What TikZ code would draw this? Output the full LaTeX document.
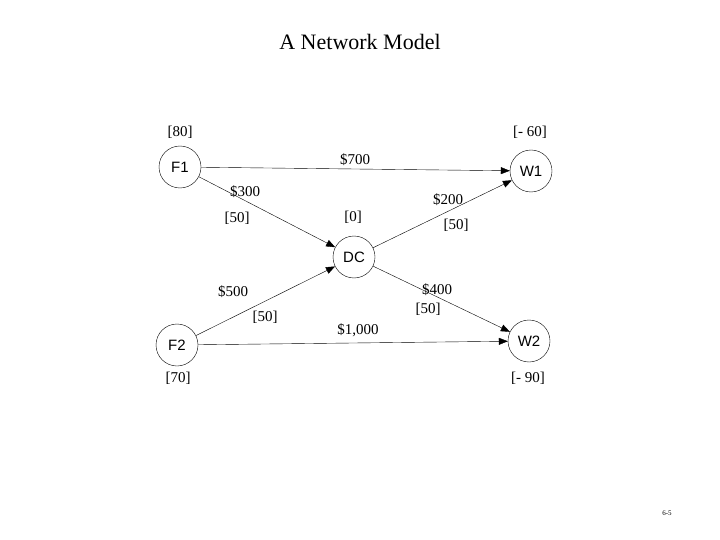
\documentclass[tikz,border=0pt]{standalone}
\usepackage{fontspec}
\setmainfont{Liberation Serif}
\newfontfamily\sansf{Liberation Sans}
\usetikzlibrary{arrows.meta}

\begin{document}
\begin{tikzpicture}[x=1pt,y=-1pt,
  site/.style={circle,draw,fill=white,minimum size=42pt,inner sep=0pt,font=\sansf\fontsize{15}{15}\selectfont},
  lbl/.style={font=\fontsize{15}{15}\selectfont}]
  \useasboundingbox (0,0) rectangle (720,540);
  \node at (360,42) {\fontsize{22}{22}\selectfont A Network Model};
  % sites
  \node[site] (f1) at (180,167) {F1};
  \node[site] (w1) at (531,171) {W1};
  \node[site] (dc) at (354,257) {DC};
  \node[site] (f2) at (177,345) {F2};
  \node[site] (w2) at (529,341) {W2};
  \path[draw,-{Triangle[length=9pt,width=7pt]}]
    (f1) edge (w1)
    (f1) edge (dc)
    (dc) edge (w1)
    (f2) edge (dc)
    (dc) edge (w2)
    (f2) edge (w2);
  % supplies and costs
  \node[lbl] at (180,132) {[80]};
  \node[lbl] at (530,132) {[- 60]};
  \node[lbl] at (355,160) {\$700};
  \node[lbl] at (245,192) {\$300};
  \node[lbl] at (237,218) {[50]};
  \node[lbl] at (353,217) {[0]};
  \node[lbl] at (448,200) {\$200};
  \node[lbl] at (456,225) {[50]};
  \node[lbl] at (233,292) {\$500};
  \node[lbl] at (265,317) {[50]};
  \node[lbl] at (437,290) {\$400};
  \node[lbl] at (428,309) {[50]};
  \node[lbl] at (358,330) {\$1,000};
  \node[lbl] at (178,378) {[70]};
  \node[lbl] at (528,378) {[- 90]};
  \node[font=\fontsize{7}{7}\selectfont] at (667,513) {6-5};
\end{tikzpicture}
\end{document}
